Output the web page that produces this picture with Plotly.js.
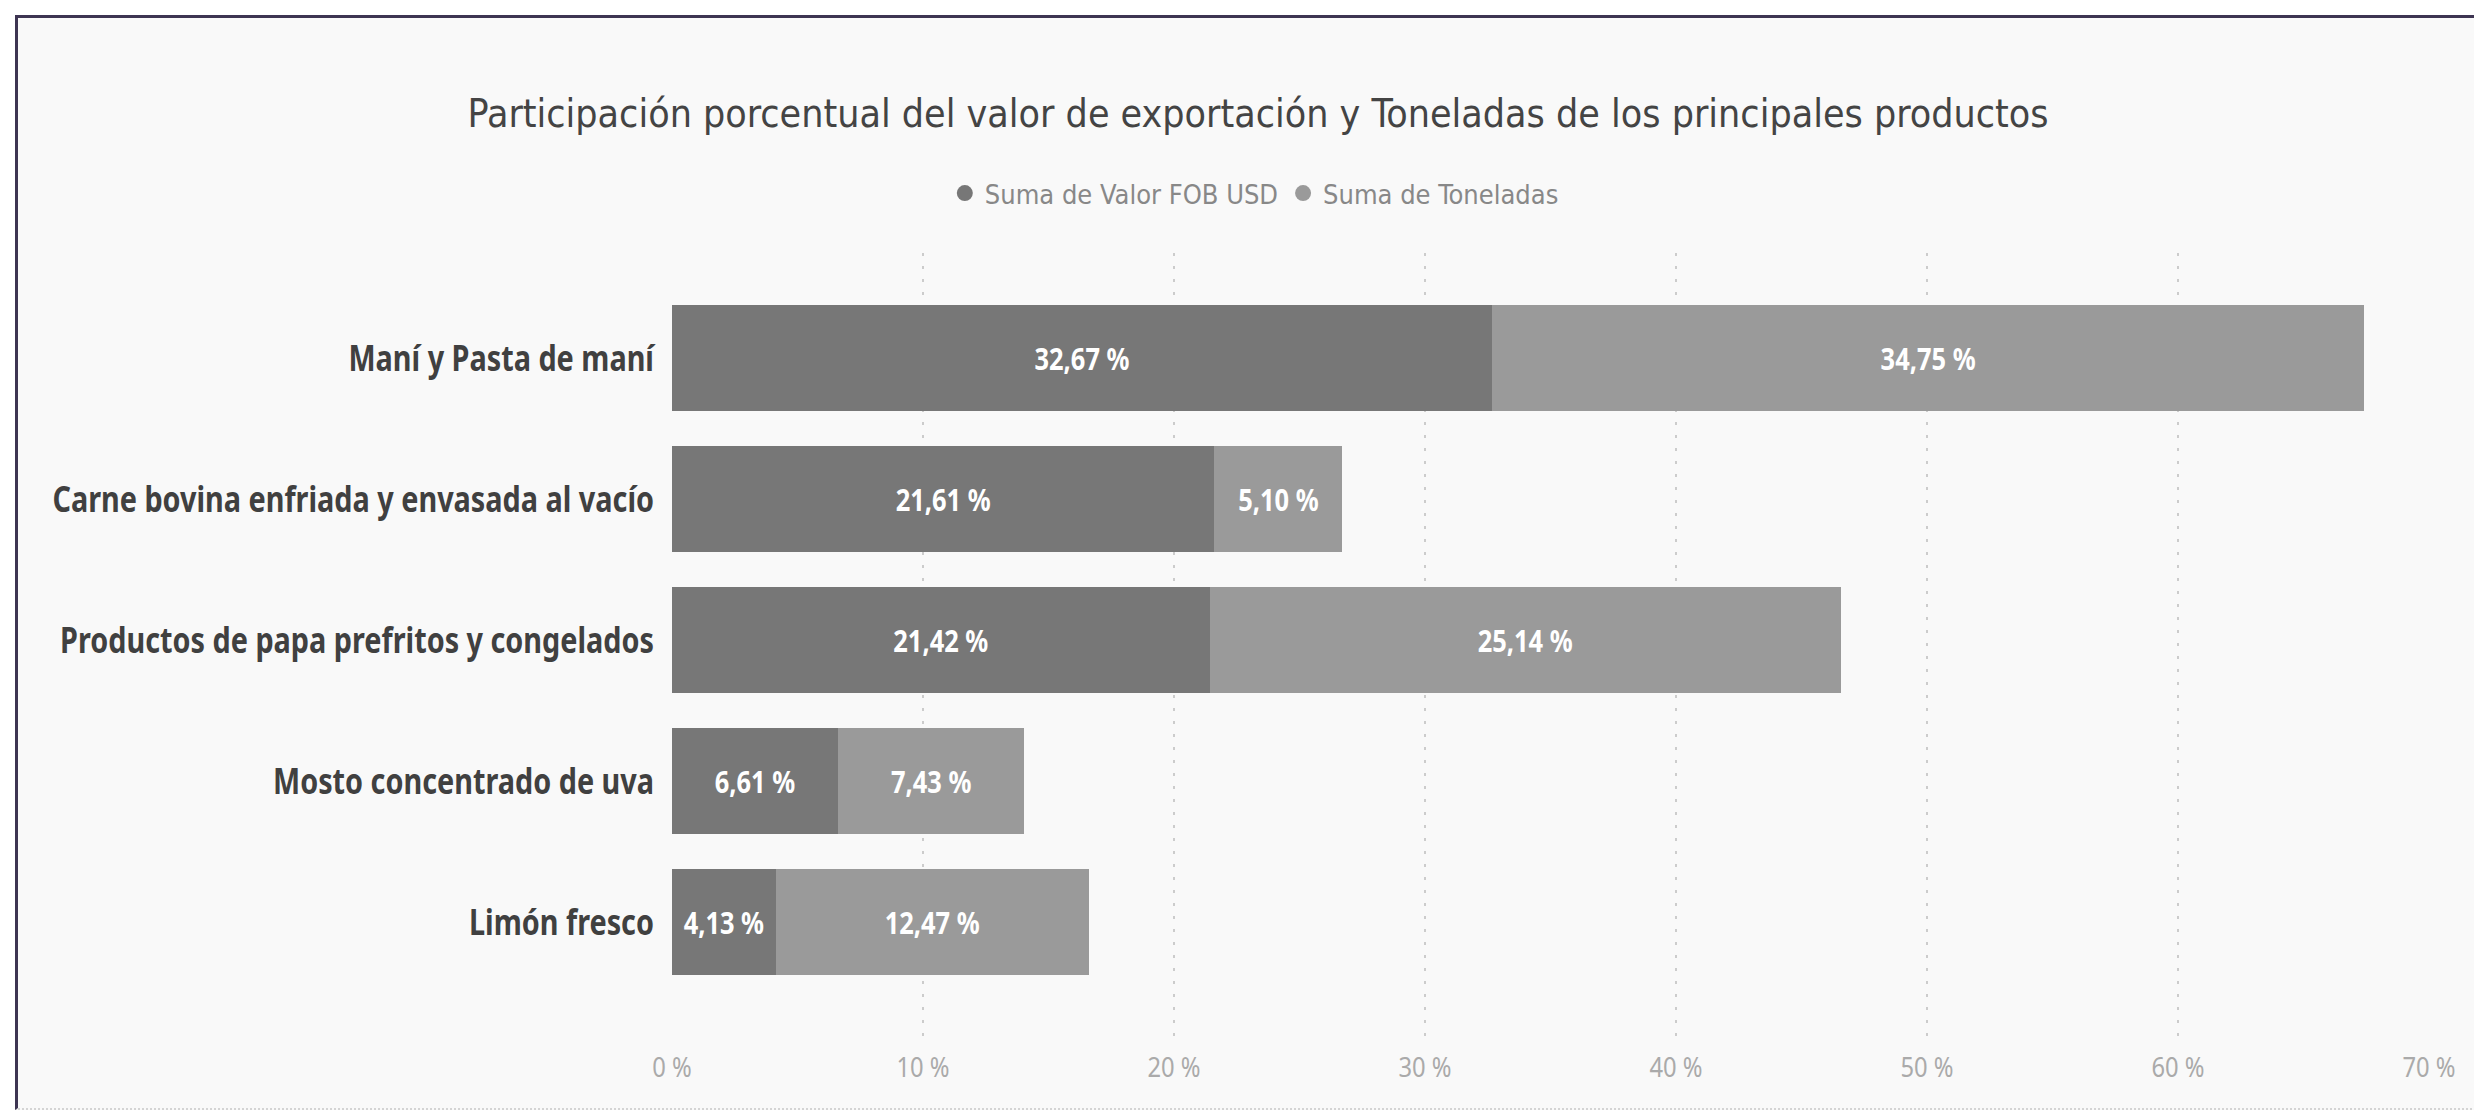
<!DOCTYPE html>
<html>
<head>
<meta charset="utf-8">
<script src="https://cdn.plot.ly/plotly-3.0.1.min.js"></script>
<style>
html, body { margin:0; padding:0; background:#ffffff; width:2474px; height:1112px; overflow:hidden; }
#frame { position:absolute; left:15px; top:15px; width:2470px; height:1090px;
  border-left:3px solid #3d3552; border-top:3px solid #3d3552; border-bottom:2px dotted #d4d4d4;
  background:#f9f9f9; }
#chart { position:absolute; left:0; top:0; width:2474px; height:1112px; }
</style>
</head>
<body>
<div id="frame"></div>
<div id="chart"></div>
<script>
// ---- data ----
const categories = [
  "Maní y Pasta de maní",
  "Carne bovina enfriada y envasada al vacío",
  "Productos de papa prefritos y congelados",
  "Mosto concentrado de uva",
  "Limón fresco"
];
const valorFOB  = [32.67, 21.61, 21.42, 6.61, 4.13];
const toneladas = [34.75,  5.10, 25.14, 7.43, 12.47];
const seriesNames = ["Suma de Valor FOB USD", "Suma de Toneladas"];
const xTickValues = [0, 10, 20, 30, 40, 50, 60, 70];
const xTickLabels = ["0 %", "10 %", "20 %", "30 %", "40 %", "50 %", "60 %", "70 %"];
const chartTitle = "Participación porcentual del valor de exportación y Toneladas de los principales productos";

// ---- styles ----
const colors = ["#777777", "#9a9a9a"];
const sans = "'Noto Sans', 'DejaVu Sans Condensed', sans-serif";
const cond = "'DejaVu Sans Condensed', sans-serif";

function barTrace(values, i) {
  return {
    type: "bar",
    orientation: "h",
    name: seriesNames[i],
    x: values,
    y: categories,
    marker: { color: colors[i], line: { width: 0 } },
    texttemplate: "%{x:.2f} %",
    textposition: "inside",
    insidetextanchor: "middle",
    textangle: 0,
    constraintext: "none",
    textfont: { family: sans, size: 31, color: "#ffffff", weight: "bold" },
    showlegend: false,
    legendgroup: "g" + i,
    hoverinfo: "skip"
  };
}
function legendTrace(i) {
  return {
    type: "scatter",
    mode: "markers",
    name: seriesNames[i],
    x: [null], y: [null],
    marker: { symbol: "circle", size: 16, color: colors[i] },
    showlegend: true,
    legendgroup: "g" + i,
    hoverinfo: "skip"
  };
}

const data = [barTrace(valorFOB, 0), barTrace(toneladas, 1), legendTrace(0), legendTrace(1)];

const layout = {
  width: 2474,
  height: 1112,
  paper_bgcolor: "rgba(0,0,0,0)",
  plot_bgcolor: "rgba(0,0,0,0)",
  separators: ",.",
  barmode: "stack",
  bargap: 0.25,
  margin: { l: 672, r: 45, t: 253, b: 75, pad: 0 },
  uniformtext: { mode: "show", minsize: 31 },
  title: {
    text: chartTitle,
    font: { family: cond, size: 39, color: "#444444" },
    xref: "container", x: 0.5085, xanchor: "center",
    yref: "container", y: 0.898, yanchor: "middle"
  },
  legend: {
    orientation: "h",
    xref: "container", x: 0.507, xanchor: "center",
    yref: "container", y: 0.826, yanchor: "middle",
    font: { family: cond, size: 27, color: "#888888" },
    itemwidth: 30,
    bgcolor: "rgba(0,0,0,0)",
    traceorder: "normal"
  },
  xaxis: {
    range: [0, 70],
    tickmode: "array",
    tickvals: xTickValues,
    ticktext: xTickLabels,
    showgrid: true,
    gridcolor: "#cccccc",
    gridwidth: 2,
    griddash: "3px,10px",
    zeroline: false,
    showline: false,
    ticks: "",
    ticklabelstandoff: 12,
    tickfont: { family: sans, size: 27, color: "#aaaaaa" },
    fixedrange: true
  },
  yaxis: {
    type: "category",
    categoryorder: "array",
    categoryarray: categories,
    range: [4.815, -0.745],
    showgrid: false,
    zeroline: false,
    showline: false,
    ticks: "",
    ticklabelstandoff: 17,
    tickfont: { family: sans, size: 36, color: "#404040", weight: "bold" },
    fixedrange: true
  },
  showlegend: true
};

// narrow the glyphs (the reference uses a condensed face) without moving the texts
function condense(selector, k) {
  document.querySelectorAll(selector).forEach(function (t) {
    var w = t.getComputedTextLength();
    if (w > 0) {
      t.setAttribute("textLength", (w * k).toFixed(1));
      t.setAttribute("lengthAdjust", "spacingAndGlyphs");
    }
  });
}

Plotly.newPlot("chart", data, layout, { displayModeBar: false, staticPlot: true }).then(function () {
  condense("#chart g.ytick text", 0.80);
  condense("#chart text.bartext", 0.82);
  condense("#chart g.xtick text", 0.88);
});
</script>
</body>
</html>
